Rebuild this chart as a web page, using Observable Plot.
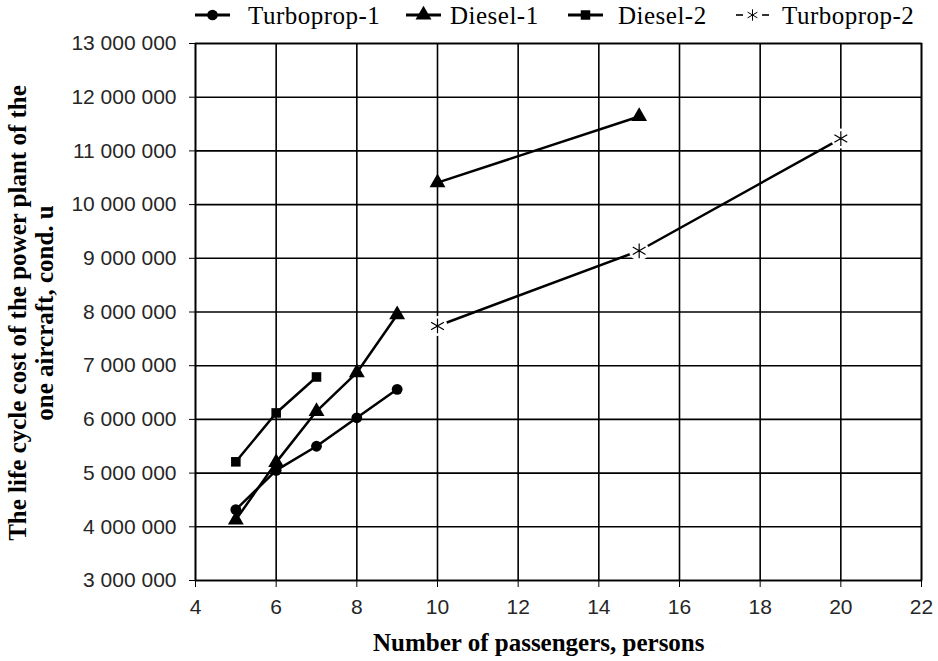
<!DOCTYPE html>
<html>
<head>
<meta charset="utf-8">
<script src="https://cdn.jsdelivr.net/npm/d3@7"></script>
<script src="https://cdn.jsdelivr.net/npm/@observablehq/plot@0.6"></script>
<style>
  body { margin: 0; background: #fff; }
  #wrap { position: relative; width: 938px; height: 661px; overflow: hidden; }
  #legend { position: absolute; left: 0; top: 0; width: 938px; height: 36px; z-index: 2; }
  .lg { position: absolute; top: 1px; font-family: "Liberation Serif", "Times New Roman", serif; font-size: 25px; line-height: 29px; letter-spacing: 0.5px; color: #000; white-space: nowrap; }
  .lgsym { position: absolute; top: 5px; }
  #chart { position: absolute; left: 0; top: 20px; z-index: 1; }
  .ylab { position: absolute; z-index: 3; font-family: "Liberation Serif", "Times New Roman", serif; font-weight: bold; font-size: 25px; color: #000; white-space: nowrap; transform-origin: center center; text-align: center; line-height: 27px; }
  .xlab { position: absolute; z-index: 3; font-family: "Liberation Serif", "Times New Roman", serif; font-weight: bold; font-size: 25px; line-height: 25px; color: #000; white-space: nowrap; }
</style>
</head>
<body>
<div id="wrap">
  <div id="legend"></div>
  <div id="chart"></div>
  <div class="ylab" id="ylab">The life cycle cost of the power plant of the<br>one aircraft, cond. u</div>
  <div class="xlab" id="xlab">Number of passengers, persons</div>
</div>
<script>
// ---- data ----
const seriesNames = ["Turboprop-1", "Diesel-1", "Diesel-2", "Turboprop-2"];

const turboprop1X = [5, 6, 7, 8, 9];
const turboprop1Y = [4320000, 5050000, 5500000, 6030000, 6560000];

const diesel1X = [5, 6, 7, 8, 9, 10, 15];
const diesel1Y = [4130000, 5200000, 6150000, 6870000, 7950000, 10410000, 11640000];
const diesel1Segment = [1, 1, 1, 1, 1, 2, 2];

const diesel2X = [5, 6, 7];
const diesel2Y = [5210000, 6120000, 6790000];

const turboprop2X = [10, 15, 20];
const turboprop2Y = [7740000, 9140000, 11230000];

const xTicks = [4, 6, 8, 10, 12, 14, 16, 18, 20, 22];
const yTicks = [3000000, 4000000, 5000000, 6000000, 7000000, 8000000, 9000000, 10000000, 11000000, 12000000, 13000000];

// ---- tables ----
const t1 = turboprop1X.map((x, i) => ({x, y: turboprop1Y[i]}));
const d1 = diesel1X.map((x, i) => ({x, y: diesel1Y[i], seg: diesel1Segment[i]}));
const d2 = diesel2X.map((x, i) => ({x, y: diesel2Y[i]}));
const t2 = turboprop2X.map((x, i) => ({x, y: turboprop2Y[i]}));

const fmt = v => d3.format(",")(v).replace(/,/g, " ");

const W = 938, H = 641;
const plot = Plot.plot({
  width: W,
  height: H,
  marginTop: 23,
  marginBottom: 81,
  marginLeft: 195,
  marginRight: 17,
  style: { fontFamily: "'Liberation Sans', Arial, sans-serif", fontSize: "21px", color: "#262626", background: "transparent" },
  x: { domain: [4, 22], ticks: xTicks, label: null },
  y: { domain: [3000000, 13000000], ticks: yTicks, label: null },
  marks: [
    Plot.gridX(xTicks, { stroke: "#000", strokeOpacity: 1, strokeWidth: 1.6 }),
    Plot.gridY(yTicks, { stroke: "#000", strokeOpacity: 1, strokeWidth: 1.6 }),
    Plot.frame({ stroke: "#000", strokeWidth: 1.6 }),
    Plot.axisX(xTicks, { tickSize: 7, tickPadding: 12, stroke: "#000", fontSize: 21, fill: "#262626" }),
    Plot.axisY(yTicks, { tickSize: 6, tickPadding: 13, stroke: "#000", tickFormat: fmt, fontSize: 21, fill: "#262626" }),
    Plot.line(t1, { x: "x", y: "y", stroke: "#000", strokeWidth: 2.5 }),
    Plot.line(d1, { x: "x", y: "y", z: "seg", stroke: "#000", strokeWidth: 2.5 }),
    Plot.line(d2, { x: "x", y: "y", stroke: "#000", strokeWidth: 2.5 }),
    Plot.line(t2, { x: "x", y: "y", stroke: "#000", strokeWidth: 2.5 }),
    Plot.dot(t1, { x: "x", y: "y", symbol: "circle", r: 5.4, fill: "#000" }),
    Plot.dot(d1, { x: "x", y: "y", symbol: "triangle", r: 5.9, fill: "#000" }),
    Plot.dot(d2, { x: "x", y: "y", symbol: "square", r: 5.4, fill: "#000" }),
    Plot.dot(t2, { x: "x", y: "y", symbol: "circle", r: 10, fill: "#fff", stroke: "none" }),
    Plot.dot(t2, { x: "x", y: "y", symbol: "asterisk", r: 7, stroke: "#000", strokeWidth: 1.2 })
  ]
});
document.getElementById("chart").appendChild(plot);

// ---- legend ----
const legend = document.getElementById("legend");
const legendItems = [
  { name: seriesNames[0], sym: "circle", symX: 195, textX: 248 },
  { name: seriesNames[1], sym: "triangle", symX: 406, textX: 450 },
  { name: seriesNames[2], sym: "square", symX: 568, textX: 618 },
  { name: seriesNames[3], sym: "asterisk", symX: 735, textX: 782 }
];
legendItems.forEach(it => {
  const s = d3.create("svg").attr("class", "lgsym").attr("width", 36).attr("height", 20)
    .style("left", it.symX + "px");
  if (it.sym === "asterisk") {
    s.append("line").attr("x1", 1).attr("x2", 8).attr("y1", 10).attr("y2", 10).attr("stroke", "#000").attr("stroke-width", 1.6);
    s.append("line").attr("x1", 27).attr("x2", 34).attr("y1", 10).attr("y2", 10).attr("stroke", "#000").attr("stroke-width", 1.6);
    s.append("path").attr("transform", "translate(17.5,10)")
      .attr("d", d3.symbol(d3.symbolAsterisk, 90)()).attr("stroke", "#000").attr("fill", "none").attr("stroke-width", 1);
  } else {
    s.append("line").attr("x1", 0).attr("x2", 35).attr("y1", 10).attr("y2", 10).attr("stroke", "#000").attr("stroke-width", 3);
    const st = it.sym === "circle" ? d3.symbolCircle : it.sym === "triangle" ? d3.symbolTriangle : d3.symbolSquare;
    const size = it.sym === "triangle" ? 110 : 90;
    s.append("path").attr("transform", "translate(17.5,10)")
      .attr("d", d3.symbol(st, size)()).attr("fill", "#000");
  }
  legend.appendChild(s.node());
  const t = document.createElement("div");
  t.className = "lg";
  t.style.left = it.textX + "px";
  t.textContent = it.name;
  legend.appendChild(t);
});

// ---- axis titles ----
const ylab = document.getElementById("ylab");
const yw = ylab.offsetWidth, yh = ylab.offsetHeight;
ylab.style.left = (31 - yw / 2) + "px";
ylab.style.top = (313 - yh / 2) + "px";
ylab.style.transform = "rotate(-90deg)";
const xlab = document.getElementById("xlab");
xlab.style.left = (539 - xlab.offsetWidth / 2) + "px";
xlab.style.top = "630px";
</script>
</body>
</html>
